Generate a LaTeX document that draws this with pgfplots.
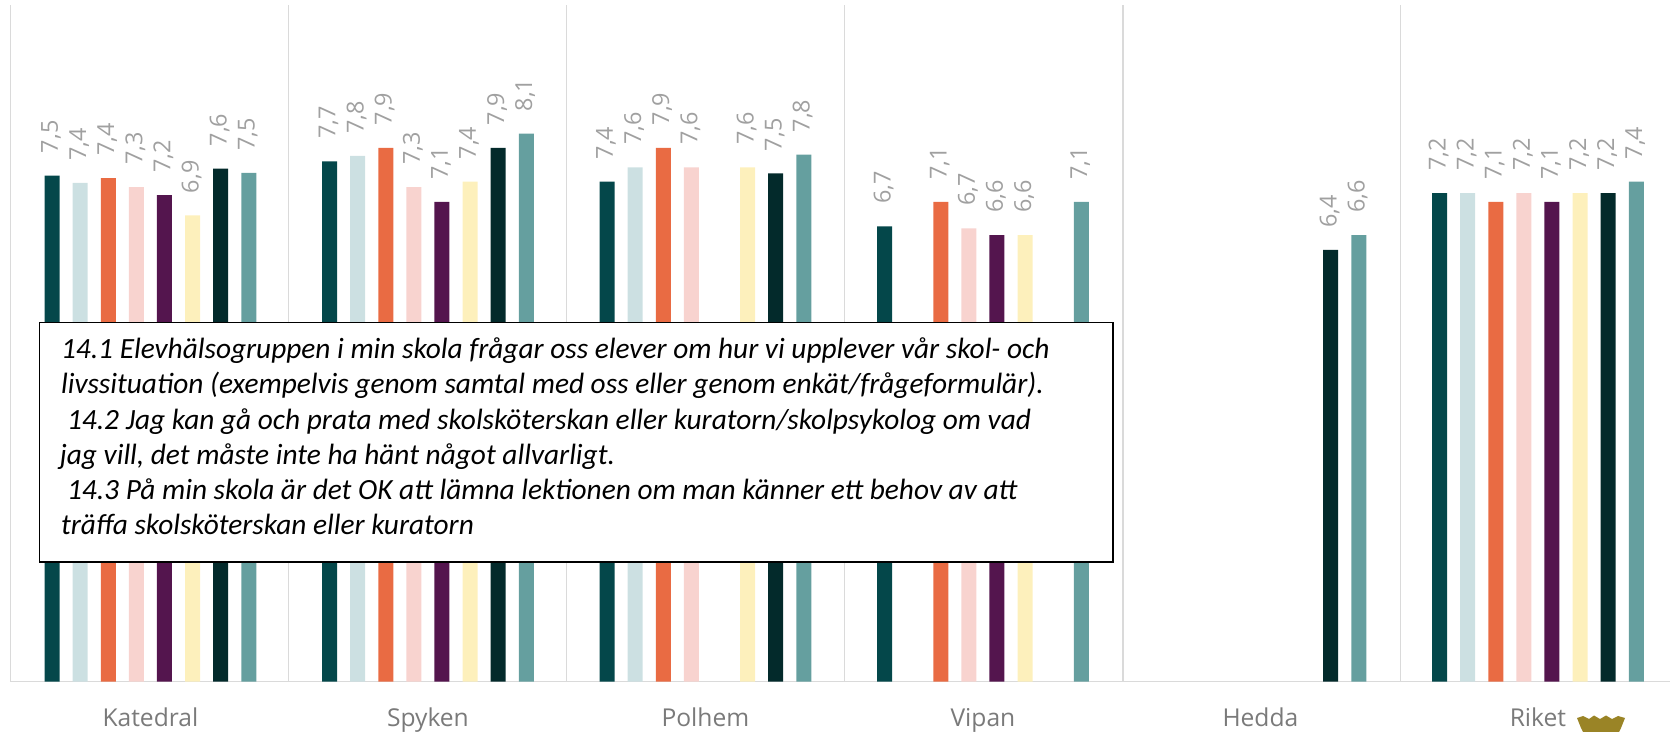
\documentclass[border=0pt]{standalone}
\usepackage{fontspec}
\setmainfont{Open Sans}
\newfontfamily\carlito{Carlito}
\usepackage{pgfplots}
\usepackage{pgfplotstable}
\pgfplotsset{compat=1.18}
\definecolor{c0}{HTML}{04474A}
\definecolor{c1}{HTML}{CCE0E2}
\definecolor{c2}{HTML}{E96B43}
\definecolor{c3}{HTML}{F8D3CF}
\definecolor{c4}{HTML}{54154E}
\definecolor{c5}{HTML}{FDF0BC}
\definecolor{c6}{HTML}{032A2B}
\definecolor{c7}{HTML}{659F9F}
\definecolor{sep}{HTML}{DADADA}
\definecolor{lab}{HTML}{A0A0A0}
\definecolor{cat}{HTML}{7A7A7A}
\definecolor{gold}{HTML}{9A8426}
\pgfplotstableread{
x a b c d e f g h
0 7.48 7.37 7.44 7.31 7.19 6.89 7.58 7.52
1 7.69 7.77 7.89 7.31 7.09 7.39 7.89 8.10
2 7.39 7.60 7.89 7.60 nan 7.60 7.51 7.79
3 6.73 nan 7.09 6.70 6.60 6.60 nan 7.09
4 nan nan nan nan nan nan 6.38 6.60
5 7.22 7.22 7.09 7.22 7.09 7.22 7.22 7.39
}\data
\pgfplotsset{
  barstyle/.style n args={2}{ybar, bar width=7.5pt, bar shift=#2pt, fill=#1, draw=none,
    nodes near coords,
    every node near coord/.append style={xshift=#2pt-0.5pt, yshift=11pt, rotate=90, anchor=west, inner sep=0pt,
      font=\fontsize{11.7}{13}\selectfont, text=lab}}
}
\begin{document}
\begin{tikzpicture}
\useasboundingbox (0,0) rectangle (835pt,366pt);
\begin{axis}[
  at={(5.4pt,25.15pt)}, anchor=south west,
  scale only axis, width=829.6pt, height=338.35pt,
  xmin=-0.5031, xmax=5.476, ymin=0, ymax=10,
  axis y line=none, axis x line=bottom,
  axis line style={-, draw=sep, line width=0.6pt},
  xtick={0,1,2,3,4,5},
  xticklabels={Katedral,Spyken,Polhem,Vipan,Hedda,Riket},
  major tick length=0pt,
  minor xtick={-0.5031,0.4977,1.5002,2.5016,3.5045,4.5045},
  minor tick length=0pt,
  xminorgrids, minor grid style={draw=sep, line width=0.6pt},
  xticklabel style={font=\fontsize{12.3}{14}\selectfont, text=cat, anchor=base, yshift=-22.2pt, inner sep=0pt},
  /pgf/number format/.cd, use comma, fixed, fixed zerofill, precision=1, assume math mode=true,
]
\addplot[barstyle={c0}{-49.175}] table[x=x,y=a] {\data};
\addplot[barstyle={c1}{-35.125}] table[x=x,y=b] {\data};
\addplot[barstyle={c2}{-21.075}] table[x=x,y=c] {\data};
\addplot[barstyle={c3}{-7.025}] table[x=x,y=d] {\data};
\addplot[barstyle={c4}{7.025}] table[x=x,y=e] {\data};
\addplot[barstyle={c5}{21.075}] table[x=x,y=f] {\data};
\addplot[barstyle={c6}{35.125}] table[x=x,y=g] {\data};
\addplot[barstyle={c7}{49.175}] table[x=x,y=h] {\data};
\end{axis}
\begin{scope}[x=0.5pt,y=-0.5pt,yshift=366pt]
  \draw[black, line width=0.9pt, fill=white] (39.5,322.5) rectangle (1113,561.7);
  \begin{scope}[every node/.style={anchor=base west, inner sep=0pt, font=\carlito\itshape\fontsize{14.67}{18}\selectfont}]
  \node at (60.7,358.5) {14.1 Elevhälsogruppen i min skola frågar oss elever om hur vi upplever vår skol- och};
  \node at (60.7,394) {livssituation (exempelvis genom samtal med oss eller genom enkät/frågeformulär).};
  \node at (66.7,430) {14.2 Jag kan gå och prata med skolsköterskan eller kuratorn/skolpsykolog om vad};
  \node at (59.5,465) {jag vill, det måste inte ha hänt något allvarligt.};
  \node at (66.7,500) {14.3 På min skola är det OK att lämna lektionen om man känner ett behov av att};
  \node at (60.7,534.5) {träffa skolsköterskan eller kuratorn};
  \end{scope}
  \fill[gold] (1577,718) -- (1583,716) -- (1589,719) -- (1594,715.5) -- (1600,719) -- (1606,715.5) -- (1612,719) -- (1618,716) -- (1625,718)
     -- (1621,728) -- (1619,732) -- (1583,732) -- (1581,728) -- cycle;
\end{scope}
\end{tikzpicture}
\end{document}
